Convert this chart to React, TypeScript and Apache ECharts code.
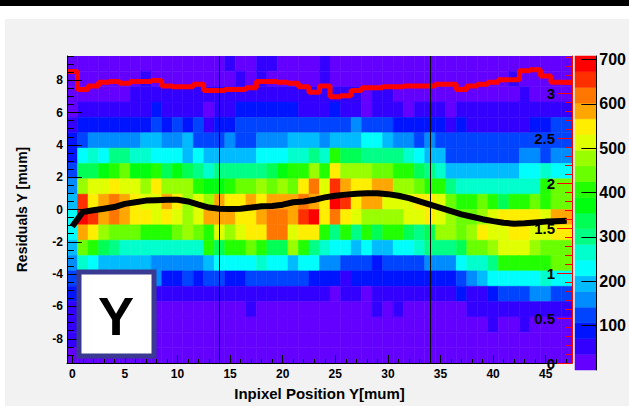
import { useEffect, useRef } from "react";
import * as echarts from "echarts";

// ---- data ----
const xBinCenters = [0,1,2,3,4,5,6,7,8,9,10,11,12,13,14,15,16,17,18,19,20,21,22,23,24,25,26,27,28,29,30,31,32,33,34,35,36,37,38,39,40,41,42,43,44,45,46,47];
const yBinCenters = [9.025,8.075,7.125,6.175,5.225,4.275,3.325,2.375,1.425,0.475,-0.475,-1.425,-2.375,-3.325,-4.275,-5.225,-6.175,-7.125,-8.075,-9.025];
const xBinWidth = 1;
const yBinHeight = 0.95;

// counts per cell, rows from top (y = 9.025) to bottom (y = -9.025)
const heatCounts: number[][] = [
  [15,15,15,15,15,15,15,15,15,15, 15,15,15,15,15,50,15,15,50,50, 15,15,15,15,50,15,15,15,15,15, 15,15,15,15,15,15,15,15,15,15, 15,15,15,15,15,15,15,15],
  [15,15,15,15,15,15,15,50,15,15, 15,15,15,15,15,15,50,15,50,15, 15,15,15,15,50,15,15,15,15,15, 15,15,15,15,15,15,15,15,15,15, 15,15,50,15,15,15,15,15],
  [15,15,15,15,15,15,50,50,50,50, 50,50,50,50,50,50,50,50,50,50, 50,50,50,50,50,50,50,50,15,50, 50,15,15,15,15,15,15,15,15,15, 15,15,15,50,15,15,15,15],
  [15,50,50,50,50,50,50,50,90,50, 50,50,50,15,50,50,90,90,90,90, 90,90,50,50,50,90,50,50,15,50, 50,50,15,50,50,50,15,50,50,50, 50,50,50,50,50,50,50,50],
  [50,90,90,90,90,90,90,90,125,90, 125,90,125,50,90,90,125,125,125,125, 125,125,125,125,125,125,125,160,125,125, 125,90,90,90,90,90,50,90,50,50, 50,50,50,50,90,90,125,125],
  [90,125,160,160,160,160,160,195,195,160, 160,195,125,125,125,160,125,125,160,160, 160,195,195,195,160,195,195,195,230,230, 195,160,160,125,160,125,125,125,125,125, 125,125,125,125,125,125,125,125],
  [90,230,265,230,300,300,265,265,230,230, 230,195,230,195,195,195,195,195,230,230, 230,265,265,300,265,405,335,335,300,300, 300,300,265,230,195,195,125,125,125,125, 125,125,125,160,160,125,160,160],
  [125,335,335,370,405,440,370,370,405,335, 370,335,300,265,300,300,300,300,300,335, 370,405,405,475,405,550,475,475,475,440, 440,405,405,335,300,265,195,195,195,195, 195,195,195,230,230,265,230,230],
  [160,475,510,510,550,510,510,475,550,475, 475,475,405,370,370,405,440,440,475,440, 475,440,550,620,510,655,585,550,550,585, 585,475,475,440,405,405,300,265,265,265, 265,265,265,265,265,405,440,440],
  [195,655,550,585,620,585,550,510,510,585, 550,475,510,475,585,550,550,585,550,585, 585,585,620,585,550,690,655,550,585,585, 510,510,510,550,550,510,440,405,405,440, 405,335,405,405,440,405,440,440],
  [230,690,655,585,620,585,550,550,510,550, 510,475,510,585,585,585,550,550,585,620, 620,585,655,690,550,620,550,510,475,475, 475,475,510,510,550,510,475,440,440,475, 510,550,550,550,550,510,585,585],
  [230,585,550,475,440,440,440,405,405,405, 440,475,440,405,510,475,510,550,550,620, 620,510,550,550,405,300,405,300,405,335, 405,405,335,300,335,475,475,440,475,550, 510,510,550,550,510,510,550,550],
  [195,440,405,335,300,265,265,265,265,265, 265,265,265,405,335,405,405,440,405,335, 335,475,405,300,265,230,230,195,230,195, 195,230,230,265,300,300,300,335,440,440, 475,510,510,510,475,440,440,440],
  [160,265,230,195,195,195,195,195,160,160, 160,160,160,195,230,230,230,230,265,230, 230,195,230,230,160,160,125,125,125,90, 125,125,125,125,160,160,160,230,265,265, 300,405,405,405,405,405,440,440],
  [125,160,160,160,160,160,160,160,160,90, 90,125,90,125,125,90,90,125,125,125, 125,125,125,90,90,90,50,90,90,90, 90,90,90,90,90,90,90,125,160,195, 230,230,230,230,230,265,230,230],
  [90,50,50,50,50,50,50,50,50,50, 50,50,50,50,50,50,50,50,50,50, 50,50,50,50,50,15,50,50,15,50, 50,50,50,50,50,50,50,90,50,50, 90,125,125,125,160,160,125,125],
  [50,15,15,15,15,15,15,15,15,15, 15,15,15,15,15,15,15,50,15,15, 15,15,15,15,15,15,15,15,15,50, 15,50,15,15,15,15,15,15,50,50, 50,50,50,50,50,50,50,50],
  [50,15,15,15,15,15,15,15,15,15, 15,15,15,15,15,15,15,15,15,15, 15,15,15,15,15,15,15,15,15,15, 15,15,15,15,15,15,15,15,15,15, 50,15,15,50,15,15,15,15],
  [50,15,15,15,15,15,15,15,15,15, 15,15,15,15,15,15,15,15,15,15, 15,15,15,15,15,15,15,15,15,15, 15,15,15,15,15,15,15,15,15,15, 15,15,15,15,15,15,15,15],
  [15,15,15,15,15,15,15,15,15,15, 15,15,15,15,15,15,15,15,15,15, 15,15,15,15,15,15,15,15,15,15, 15,15,15,15,15,15,15,15,15,15, 15,15,15,15,15,15,15,15],
];

// red profile (right axis scale), one value per x bin
const redProfile = [3.24,3.04,3.08,3.12,3.13,3.11,3.13,3.13,3.14,3.08, 3.07,3.07,3.10,3.03,3.03,3.04,3.04,3.06,3.13,3.13, 3.12,3.11,3.07,3.01,3.08,2.96,2.97,3.03,3.06,3.06, 3.07,3.07,3.08,3.08,3.08,3.10,3.10,3.04,3.08,3.10, 3.12,3.15,3.15,3.25,3.26,3.19,3.12,3.12];
// black profile (mean residual, left axis), one value per x bin
const blackProfile = [-1.05,-0.15,-0.05,0.05,0.15,0.35,0.45,0.55,0.58,0.6, 0.6,0.5,0.3,0.12,0.05,0.03,0.05,0.12,0.2,0.22, 0.3,0.45,0.5,0.6,0.75,0.85,0.92,0.98,1.0,1.0, 0.95,0.85,0.7,0.5,0.3,0.1,-0.1,-0.3,-0.45,-0.6, -0.72,-0.82,-0.88,-0.85,-0.8,-0.75,-0.72,-0.7];

const dividerX = [14, 34];
const xTickLabels = [0, 5, 10, 15, 20, 25, 30, 35, 40, 45];
const yTickLabels = [-8, -6, -4, -2, 0, 2, 4, 6, 8];
const rightTickLabels = [0, 0.5, 1, 1.5, 2, 2.5, 3];
const paletteTickLabels = [100, 200, 300, 400, 500, 600, 700];
const paletteColors = ["#6300ff","#3300ff","#0014ff","#0044ff","#008bff","#00bbff","#00fffc","#00ffcc","#00ff85","#00ff55","#00ff0e","#22ff00","#69ff00","#99ff00","#e0ff00","#ffee00","#ffa700","#ff7700","#ff3000","#ff0000"];
const zMax = 708;
const rightMax = 3.413;

function steps(a: number, b: number, s: number) {
  const out: number[] = [];
  for (let i = 0; a + i * s <= b + 1e-9; i++) out.push(+(a + i * s).toFixed(4));
  return out;
}

export default function App() {
  const ref = useRef<HTMLDivElement>(null);
  useEffect(() => {
    document.body.style.margin = "0";
    const chart = echarts.init(ref.current!, null, { renderer: "svg" });
    const font = "'Liberation Sans', Arial, Helvetica, sans-serif";

    const heatData: number[][] = [];
    heatCounts.forEach((row, r) => row.forEach((z, c) => heatData.push([xBinCenters[c], yBinCenters[r], z])));
    const zStep = zMax / paletteColors.length;
    const pieces = paletteColors.map((color, i) =>
      i === paletteColors.length - 1 ? { gte: i * zStep, color } : { gte: i * zStep, lt: (i + 1) * zStep, color }
    );
    const paletteData = paletteColors.map((_, i) => [0.5, (i + 0.5) * zStep, (i + 0.5) * zStep]);
    const redData = xBinCenters.map((x, i) => [x - xBinWidth / 2, redProfile[i]]);
    redData.push([xBinCenters[xBinCenters.length - 1] + xBinWidth / 2, redProfile[redProfile.length - 1]]);
    const blackData = xBinCenters.map((x, i) => [x, blackProfile[i]]);

    const lbl = { fontFamily: font, fontWeight: "bold" as const, color: "#000" };

    chart.setOption({
      animation: false,
      backgroundColor: "#f2f2f2",
      graphic: [
        { type: "rect", z: -10, shape: { x: 0, y: 0, width: 629, height: 19 }, style: { fill: "#ffffff" } },
        { type: "rect", z: -10, shape: { x: 0, y: 0, width: 5, height: 406 }, style: { fill: "#ffffff" } },
        { type: "rect", z: -9, shape: { x: 0, y: 0, width: 629, height: 6 }, style: { fill: "#000000" } },
        { type: "rect", z: 100, shape: { x: 79, y: 272, width: 75, height: 84 }, style: { fill: "#ffffff", stroke: "#3a3a92", lineWidth: 5 } },
        { type: "text", z: 101, x: 116, y: 316, style: { text: "Y", fontSize: 54, fontWeight: "bold", fontFamily: font, fill: "#000", textAlign: "center", textVerticalAlign: "middle" } },
      ],
      visualMap: { type: "piecewise", show: false, dimension: 2, seriesIndex: [0, 3], pieces },
      grid: [
        { left: 67, top: 56, width: 505, height: 314 },
        { left: 575, top: 56, width: 29, height: 314 },
      ],
      xAxis: [
        {
          type: "value", gridIndex: 0, min: -0.5, max: 47.5, position: "bottom", z: 10,
          axisLine: { onZero: false, lineStyle: { color: "#000", width: 1 } },
          axisTick: { inside: true, length: 8, customValues: xTickLabels, lineStyle: { color: "#000" } },
          axisLabel: { ...lbl, fontSize: 12, margin: 5, customValues: xTickLabels },
          splitLine: { show: false },
          name: "Inpixel Position Y[mum]", nameLocation: "middle", nameGap: 23,
          nameTextStyle: { ...lbl, fontSize: 15 },
        },
        {
          type: "value", gridIndex: 0, min: -0.5, max: 47.5, position: "bottom", z: 10,
          axisLine: { show: false, onZero: false },
          axisTick: { inside: true, length: 4, customValues: steps(0, 47, 1), lineStyle: { color: "#000" } },
          axisLabel: { show: false }, splitLine: { show: false },
        },
        { type: "value", gridIndex: 1, min: 0, max: 1, show: false },
      ],
      yAxis: [
        {
          type: "value", gridIndex: 0, min: -9.5, max: 9.5, position: "left", z: 10,
          axisLine: { onZero: false, lineStyle: { color: "#000", width: 1 } },
          axisTick: { inside: true, length: 15, customValues: yTickLabels, lineStyle: { color: "#000" } },
          axisLabel: { ...lbl, fontSize: 12, margin: 4, customValues: yTickLabels },
          splitLine: { show: false },
          name: "Residuals Y [mum]", nameLocation: "middle", nameGap: 38,
          nameTextStyle: { ...lbl, fontSize: 14 },
        },
        {
          type: "value", gridIndex: 0, min: -9.5, max: 9.5, position: "left", z: 10,
          axisLine: { show: false, onZero: false },
          axisTick: { inside: true, length: 7, customValues: steps(-9.5, 9.5, 0.5), lineStyle: { color: "#000" } },
          axisLabel: { show: false }, splitLine: { show: false },
        },
        {
          type: "value", gridIndex: 0, min: 0, max: rightMax, position: "right", z: 10,
          axisLine: { onZero: false, lineStyle: { color: "#ff0000", width: 1 } },
          axisTick: { inside: true, length: 15, customValues: rightTickLabels, lineStyle: { color: "#ff0000" } },
          axisLabel: { ...lbl, fontSize: 15, inside: true, margin: 17, customValues: rightTickLabels },
          splitLine: { show: false },
        },
        {
          type: "value", gridIndex: 0, min: 0, max: rightMax, position: "right", z: 10,
          axisLine: { show: false, onZero: false },
          axisTick: { inside: true, length: 7, customValues: steps(0, 3.4, 0.1), lineStyle: { color: "#ff0000" } },
          axisLabel: { show: false }, splitLine: { show: false },
        },
        {
          type: "value", gridIndex: 1, min: 0, max: zMax, position: "right", z: 10,
          axisLine: { onZero: false, lineStyle: { color: "#000", width: 1 } },
          axisTick: { inside: true, length: 15, customValues: paletteTickLabels, lineStyle: { color: "#000" } },
          axisLabel: { ...lbl, fontSize: 16, margin: 3, customValues: paletteTickLabels },
          splitLine: { show: false },
        },
      ],
      series: [
        {
          type: "custom", xAxisIndex: 0, yAxisIndex: 0, clip: true, data: heatData, z: 1,
          renderItem: (_p: any, api: any) => {
            const x = api.value(0), y = api.value(1);
            const p1 = api.coord([x - xBinWidth / 2, y + yBinHeight / 2]);
            const p2 = api.coord([x + xBinWidth / 2, y - yBinHeight / 2]);
            const color = api.visual("color");
            return { type: "rect", shape: { x: p1[0], y: p1[1], width: p2[0] - p1[0], height: p2[1] - p1[1] }, style: { fill: color, stroke: color, lineWidth: 0.5 } };
          },
        },
        {
          type: "line", xAxisIndex: 0, yAxisIndex: 2, data: redData, step: "end", showSymbol: false, z: 4,
          lineStyle: { color: "#ff0000", width: 5 }, silent: true,
        },
        {
          type: "line", xAxisIndex: 0, yAxisIndex: 0, data: blackData, showSymbol: false, z: 5,
          lineStyle: { color: "#000000", width: 6 }, silent: true,
          markLine: {
            silent: true, symbol: ["none", "none"], label: { show: false },
            lineStyle: { color: "#000", width: 1, type: "solid" },
            data: dividerX.map((x) => ({ xAxis: x })),
          },
        },
        {
          type: "custom", xAxisIndex: 2, yAxisIndex: 4, data: paletteData, z: 1,
          renderItem: (_p: any, api: any) => {
            const mid = api.value(1);
            const p1 = api.coord([0, mid + zStep / 2]);
            const p2 = api.coord([1, mid - zStep / 2]);
            const color = api.visual("color");
            return { type: "rect", shape: { x: p1[0], y: p1[1], width: p2[0] - p1[0], height: p2[1] - p1[1] }, style: { fill: color, stroke: color, lineWidth: 0.5 } };
          },
        },
      ],
    });
    return () => chart.dispose();
  }, []);
  return <div ref={ref} style={{ width: 629, height: 406 }} />;
}
